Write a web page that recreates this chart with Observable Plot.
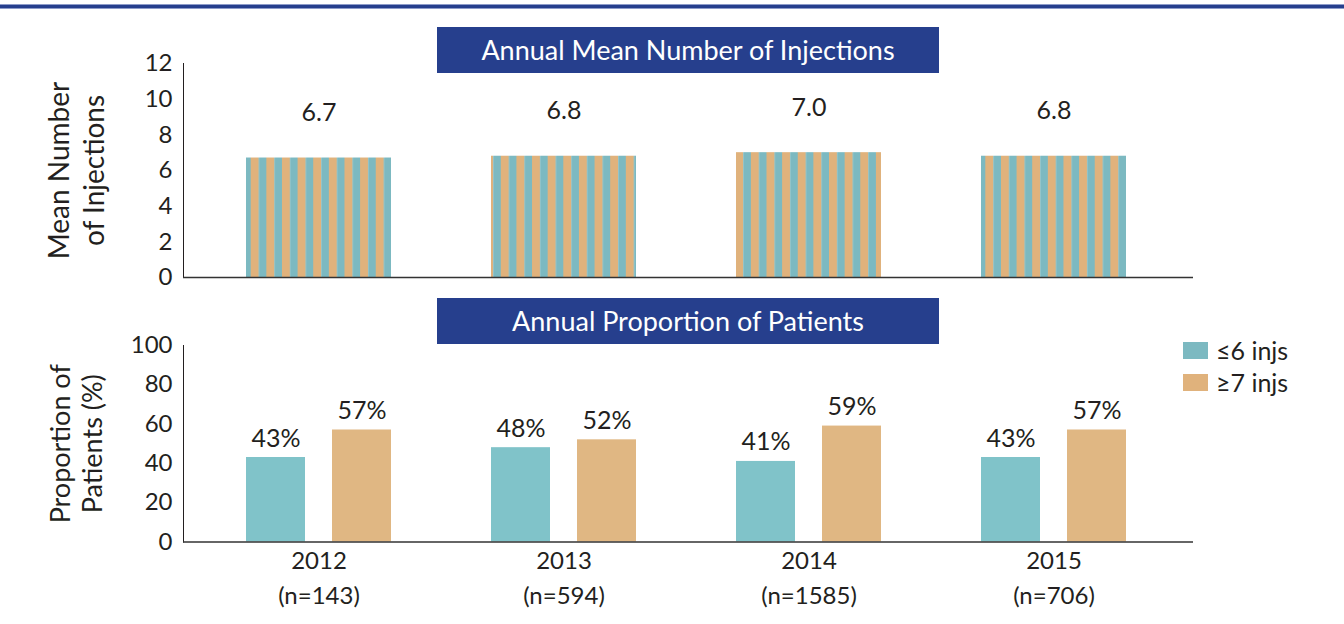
<!DOCTYPE html>
<html>
<head>
<meta charset="utf-8">
<script src="https://cdn.jsdelivr.net/npm/d3@7"></script>
<script src="https://cdn.jsdelivr.net/npm/@observablehq/plot@0.6"></script>
<style>
  html, body { margin: 0; padding: 0; background: #fff; }
  body { font-family: Lato, "Open Sans", sans-serif; color: #231f20; }
  #page { position: relative; width: 1344px; height: 624px; overflow: hidden; }
  .topline { position: absolute; left: 0; top: 4px; width: 1344px; height: 3px;
             background: #263f8d; border-top: 1px solid #8d9bc9; border-bottom: 1px solid #8d9bc9; }
  .titlebox { position: absolute; left: 437px; width: 502px; height: 46px; background: #263f8d;
              color: #fff; font-size: 27px; line-height: 46px; text-align: center; }
  .chart { position: absolute; left: 0; }
  .legend { position: absolute; left: 1183px; top: 334px; font-size: 25px; }
  .legend div { display: flex; align-items: center; height: 32px; }
  .legend span.sw { display: inline-block; width: 25px; height: 17px; margin-right: 8px; }
</style>
</head>
<body>
<div id="page">
  <div class="topline"></div>
</div>
<script>
// ---- data ----
const years = ["2012", "2013", "2014", "2015"];
const nPatients = [143, 594, 1585, 706];
const meanInjections = [6.7, 6.8, 7.0, 6.8];
const pctLe6 = [43, 48, 41, 43];
const pctGe7 = [57, 52, 59, 57];
const topTicks = [0, 2, 4, 6, 8, 10, 12];
const bottomTicks = [0, 20, 40, 60, 80, 100];
const seriesNames = ["\u22646 injs", "\u22657 injs"];
const titles = ["Annual Mean Number of Injections", "Annual Proportion of Patients"];

// ---- styling ----
const teal = "#80c3c9";
const tan = "#e0b783";
const stripeTeal = "#7cb9c1";
const stripeTan = "#e0b27c";
const ink = "#231f20";
const font = "Lato, 'Open Sans', sans-serif";

const xScale = {
  domain: years, paddingInner: 100 / 245, paddingOuter: 0.2653, align: 0.4846, axis: null
};

const page = document.getElementById("page");

// ---- top chart: mean number of injections ----
const topRows = years.map((year, i) => ({year, mean: meanInjections[i]}));
const topChart = Plot.plot({
  width: 1344, height: 280,
  marginLeft: 183, marginRight: 151, marginTop: 43, marginBottom: 23,
  style: {fontFamily: font, fontSize: "24px", color: ink, background: "transparent"},
  x: xScale,
  y: {domain: [0, 12], ticks: topTicks, tickSize: 0, tickPadding: 11, label: null, line: true},
  marks: [
    Plot.barY(topRows, {x: "year", y: "mean", fill: "url(#stripes)"}),
    Plot.ruleY([0], {stroke: "#333", strokeWidth: 1.6}),
    Plot.text(topRows, {x: "year", y: "mean", text: d => d3.format(".1f")(d.mean), dy: -45, fontSize: 25, fill: ink}),
    Plot.text(["Mean Number\nof Injections"], {frameAnchor: "left", textAnchor: "middle", text: d => d, rotate: -90, dx: -108, lineHeight: 1.25, fontSize: 28, fill: ink})
  ]
});
// stripe pattern
const ns = "http://www.w3.org/2000/svg";
const defs = document.createElementNS(ns, "defs");
const pat = document.createElementNS(ns, "pattern");
pat.setAttribute("id", "stripes");
pat.setAttribute("patternUnits", "userSpaceOnUse");
pat.setAttribute("x", String(250.7 % 15.63));
pat.setAttribute("y", "0");
pat.setAttribute("width", "15.63");
pat.setAttribute("height", "10");
const r1 = document.createElementNS(ns, "rect");
r1.setAttribute("x", "0"); r1.setAttribute("y", "0"); r1.setAttribute("width", "8"); r1.setAttribute("height", "10");
r1.setAttribute("fill", stripeTan);
const r2 = document.createElementNS(ns, "rect");
r2.setAttribute("x", "8"); r2.setAttribute("y", "0"); r2.setAttribute("width", "7.63"); r2.setAttribute("height", "10");
r2.setAttribute("fill", stripeTeal);
pat.appendChild(r1); pat.appendChild(r2); defs.appendChild(pat);
topChart.insertBefore(defs, topChart.firstChild);
topChart.classList.add("chart");
topChart.style.top = "20px";
page.appendChild(topChart);

// ---- bottom chart: proportion of patients ----
const botRows = years.map((year, i) => ({year, le6: pctLe6[i], ge7: pctGe7[i], label: `${year}\n(n=${nPatients[i]})`}));
const bottomChart = Plot.plot({
  width: 1344, height: 324,
  marginLeft: 183, marginRight: 151, marginTop: 45, marginBottom: 82.5,
  style: {fontFamily: font, fontSize: "24px", color: ink, background: "transparent"},
  x: xScale,
  y: {domain: [0, 100], ticks: bottomTicks, tickSize: 0, tickPadding: 11, label: null, line: true},
  marks: [
    Plot.barY(botRows, {x: "year", y: "le6", fill: teal, insetRight: 86}),
    Plot.barY(botRows, {x: "year", y: "ge7", fill: tan, insetLeft: 86}),
    Plot.ruleY([0], {stroke: "#333", strokeWidth: 1.6}),
    Plot.text(botRows, {x: "year", y: "le6", text: d => `${d.le6}%`, dx: -43, dy: -19, fontSize: 25, fill: ink}),
    Plot.text(botRows, {x: "year", y: "ge7", text: d => `${d.ge7}%`, dx: 43, dy: -19, fontSize: 25, fill: ink}),
    Plot.text(botRows, {x: "year", frameAnchor: "bottom", text: "label", lineAnchor: "top", dy: 2, lineHeight: 1.46, fontSize: 24, fill: ink}),
    Plot.text(["Proportion of\nPatients (%)"], {frameAnchor: "left", textAnchor: "middle", text: d => d, rotate: -90, dx: -108, lineHeight: 1.2, fontSize: 27, fill: ink})
  ]
});
bottomChart.classList.add("chart");
bottomChart.style.top = "300px";
page.appendChild(bottomChart);

// ---- title boxes ----
[27, 298].forEach((t, i) => {
  const d = document.createElement("div");
  d.className = "titlebox";
  d.style.top = t + "px";
  d.textContent = titles[i];
  page.appendChild(d);
});

// ---- legend ----
const leg = document.createElement("div");
leg.className = "legend";
[stripeTeal, stripeTan].forEach((c, i) => {
  const row = document.createElement("div");
  const sw = document.createElement("span");
  sw.className = "sw"; sw.style.background = c;
  row.appendChild(sw);
  row.appendChild(document.createTextNode(seriesNames[i]));
  leg.appendChild(row);
});
page.appendChild(leg);
</script>
</body>
</html>
